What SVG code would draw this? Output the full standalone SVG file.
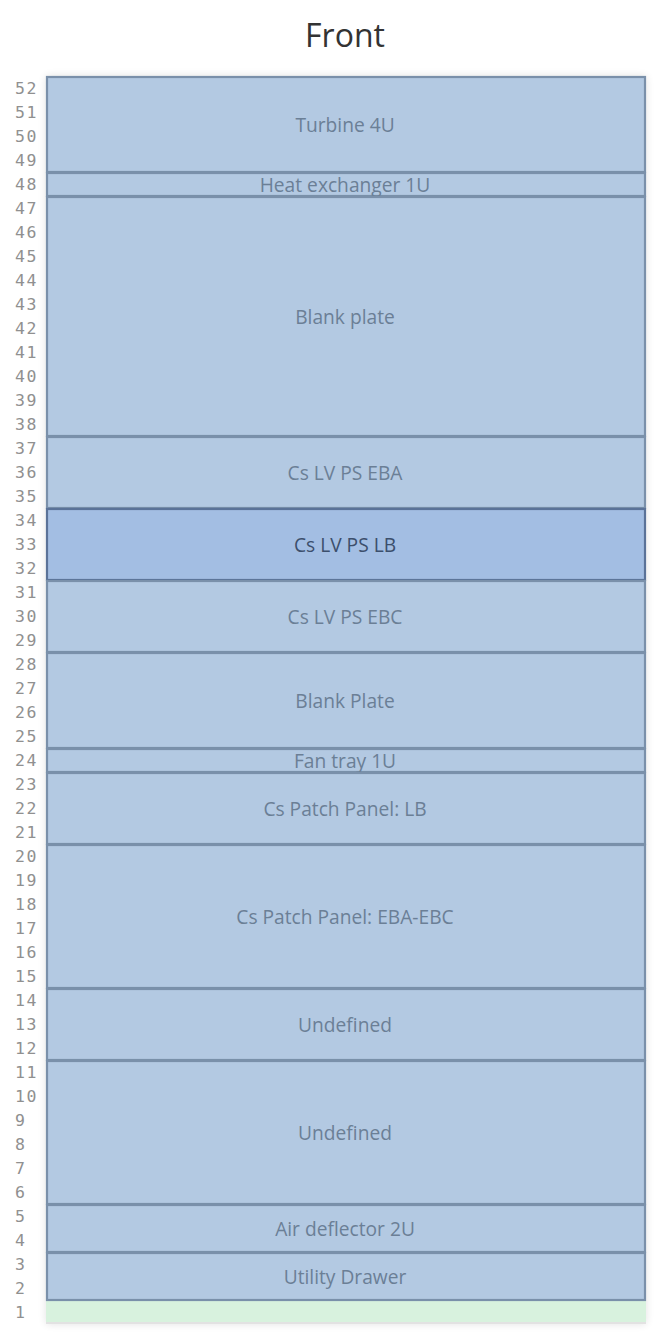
<svg xmlns="http://www.w3.org/2000/svg" width="668" height="1344" viewBox="0 0 668 1344">
<defs>
<filter id="sh" x="-5%" y="-5%" width="110%" height="110%">
<feGaussianBlur in="SourceAlpha" stdDeviation="4"/>
<feComponentTransfer><feFuncA type="linear" slope="0.12"/></feComponentTransfer>
<feMerge><feMergeNode/><feMergeNode in="SourceGraphic"/></feMerge>
</filter>
</defs>
<style>
.u{font-family:"DejaVu Sans Mono",monospace;font-size:16.5px;fill:#909090;letter-spacing:1.5px}
.dev rect{fill:#b3c9e2;stroke:#7a90aa;stroke-width:2.2}
.dev text{font-family:"Open Sans","Noto Sans",sans-serif;font-size:19.2px;fill:#6b7f96;text-anchor:middle;dominant-baseline:central}
.sel rect{fill:#a3bee3;stroke:#5a7298}
.sel text{fill:#3c4f6c}
</style>
<rect width="668" height="1344" fill="#ffffff"/>
<text x="345" y="47" font-family="Open Sans, Noto Sans, sans-serif" font-size="32" fill="#333333" text-anchor="middle">Front</text>
<g id="rack" filter="url(#sh)">
<rect x="46" y="76" width="600" height="1248" fill="#d8f2de"/>
<rect x="46" y="1322" width="600" height="2" fill="#e2e2e2"/>
</g>
<g id="units">
<text class="u" x="15" y="94">52</text><text class="u" x="15" y="118">51</text><text class="u" x="15" y="142">50</text><text class="u" x="15" y="166">49</text>
<text class="u" x="15" y="190">48</text><text class="u" x="15" y="214">47</text><text class="u" x="15" y="238">46</text><text class="u" x="15" y="262">45</text>
<text class="u" x="15" y="286">44</text><text class="u" x="15" y="310">43</text><text class="u" x="15" y="334">42</text><text class="u" x="15" y="358">41</text>
<text class="u" x="15" y="382">40</text><text class="u" x="15" y="406">39</text><text class="u" x="15" y="430">38</text><text class="u" x="15" y="454">37</text>
<text class="u" x="15" y="478">36</text><text class="u" x="15" y="502">35</text><text class="u" x="15" y="526">34</text><text class="u" x="15" y="550">33</text>
<text class="u" x="15" y="574">32</text><text class="u" x="15" y="598">31</text><text class="u" x="15" y="622">30</text><text class="u" x="15" y="646">29</text>
<text class="u" x="15" y="670">28</text><text class="u" x="15" y="694">27</text><text class="u" x="15" y="718">26</text><text class="u" x="15" y="742">25</text>
<text class="u" x="15" y="766">24</text><text class="u" x="15" y="790">23</text><text class="u" x="15" y="814">22</text><text class="u" x="15" y="838">21</text>
<text class="u" x="15" y="862">20</text><text class="u" x="15" y="886">19</text><text class="u" x="15" y="910">18</text><text class="u" x="15" y="934">17</text>
<text class="u" x="15" y="958">16</text><text class="u" x="15" y="982">15</text><text class="u" x="15" y="1006">14</text><text class="u" x="15" y="1030">13</text>
<text class="u" x="15" y="1054">12</text><text class="u" x="15" y="1078">11</text><text class="u" x="15" y="1102">10</text><text class="u" x="15" y="1126">9</text>
<text class="u" x="15" y="1150">8</text><text class="u" x="15" y="1174">7</text><text class="u" x="15" y="1198">6</text><text class="u" x="15" y="1222">5</text>
<text class="u" x="15" y="1246">4</text><text class="u" x="15" y="1270">3</text><text class="u" x="15" y="1294">2</text><text class="u" x="15" y="1318">1</text>
</g>
<g id="turbine" class="dev"><rect x="47" y="77" width="598" height="95"/><text x="345" y="124">Turbine 4U</text></g>
<g id="heat-exchanger" class="dev"><rect x="47" y="173" width="598" height="23"/><text x="345" y="184">Heat exchanger 1U</text></g>
<g id="blank-plate-1" class="dev"><rect x="47" y="197" width="598" height="239"/><text x="345" y="316">Blank plate</text></g>
<g id="cs-lv-ps-eba" class="dev"><rect x="47" y="437" width="598" height="71"/><text x="345" y="472">Cs LV PS EBA</text></g>
<g id="cs-lv-ps-lb" class="dev sel"><rect x="47" y="509" width="598" height="71"/><text x="345" y="544">Cs LV PS LB</text></g>
<g id="cs-lv-ps-ebc" class="dev"><rect x="47" y="581" width="598" height="71"/><text x="345" y="616">Cs LV PS EBC</text></g>
<g id="blank-plate-2" class="dev"><rect x="47" y="653" width="598" height="95"/><text x="345" y="700">Blank Plate</text></g>
<g id="fan-tray" class="dev"><rect x="47" y="749" width="598" height="23"/><text x="345" y="760">Fan tray 1U</text></g>
<g id="patch-lb" class="dev"><rect x="47" y="773" width="598" height="71"/><text x="345" y="808">Cs Patch Panel: LB</text></g>
<g id="patch-eba-ebc" class="dev"><rect x="47" y="845" width="598" height="143"/><text x="345" y="916">Cs Patch Panel: EBA-EBC</text></g>
<g id="undefined-1" class="dev"><rect x="47" y="989" width="598" height="71"/><text x="345" y="1024">Undefined</text></g>
<g id="undefined-2" class="dev"><rect x="47" y="1061" width="598" height="143"/><text x="345" y="1132">Undefined</text></g>
<g id="air-deflector" class="dev"><rect x="47" y="1205" width="598" height="47"/><text x="345" y="1228">Air deflector 2U</text></g>
<g id="utility-drawer" class="dev"><rect x="47" y="1253" width="598" height="47"/><text x="345" y="1276">Utility Drawer</text></g>
<g id="connectors"></g>
</svg>
